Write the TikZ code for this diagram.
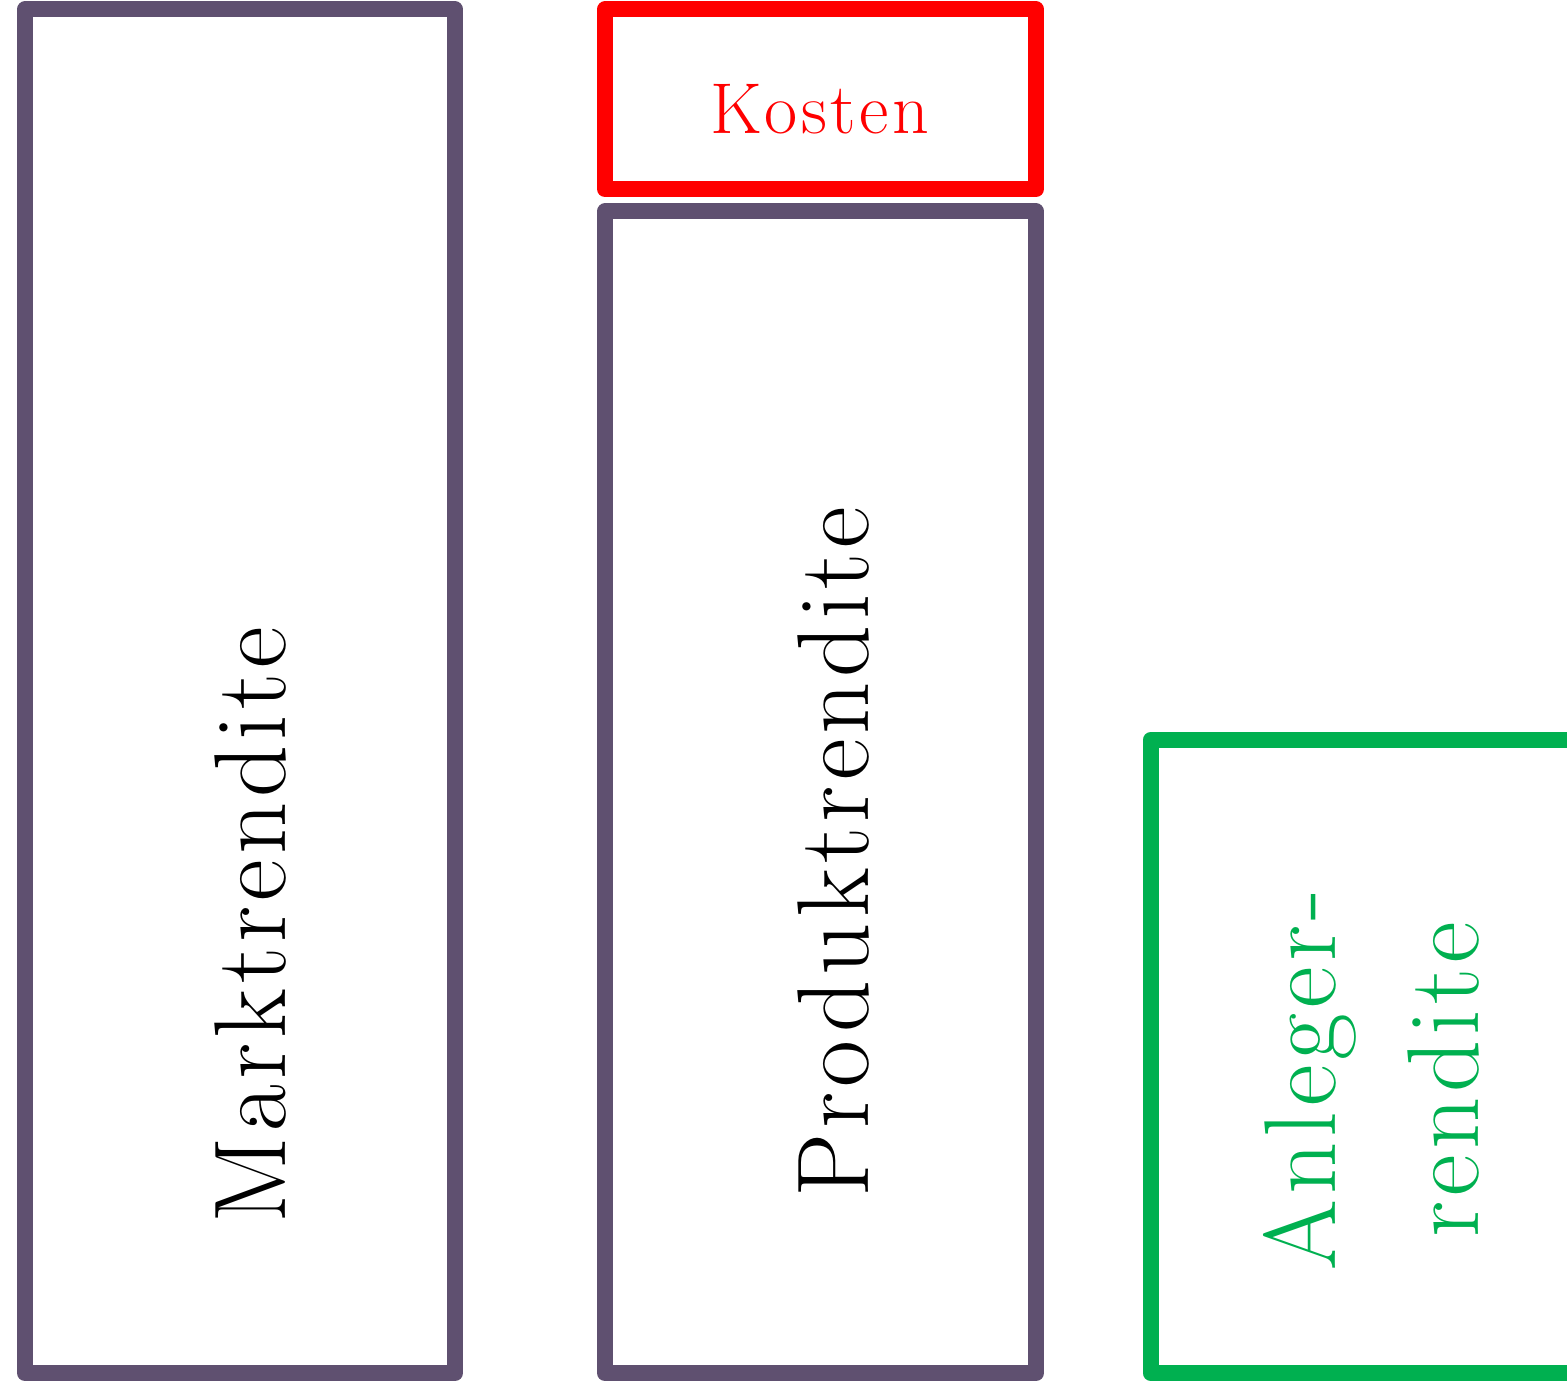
\documentclass[tikz,border=0pt]{standalone}
\usepackage{fontspec}
\setmainfont{Latin Modern Roman}[LetterSpace=5]
\definecolor{boxpurple}{HTML}{5F5070}
\definecolor{boxred}{HTML}{FF0000}
\definecolor{boxgreen}{HTML}{00B050}
\begin{document}
\begin{tikzpicture}[x=0.5pt,y=-0.5pt,
  frame/.style={line width=8pt,line join=round},
  bigtext/.style={font=\fontsize{51}{61}\selectfont,inner sep=0pt},
]
\useasboundingbox (0,0) rectangle (1567,1384);
% boxes
\draw[frame,boxpurple] (25,9.5) rectangle (455,1373);
\draw[frame,boxred] (605,9.5) rectangle (1036,189);
\draw[frame,boxpurple] (605,211.5) rectangle (1036,1373);
\draw[frame,boxgreen] (1567,740) -- (1150.5,740) -- (1150.5,1373) -- (1567,1373);
% texts
\node[bigtext,rotate=90,anchor=base] (markt) at (285,925) {Marktrendite};
\node[bigtext,rotate=90,anchor=base] (produkt) at (868,852) {Produktrendite};
\node[font=\fontsize{36}{43}\selectfont,inner sep=0pt,text=boxred,anchor=base] (kosten) at (820,134) {Kosten};
\node[bigtext,rotate=90,anchor=base,text=boxgreen] (anleger1) at (1335,1080) {Anleger-};
\node[bigtext,rotate=90,anchor=base,text=boxgreen] (anleger2) at (1478,1080) {rendite};
\end{tikzpicture}
\end{document}
